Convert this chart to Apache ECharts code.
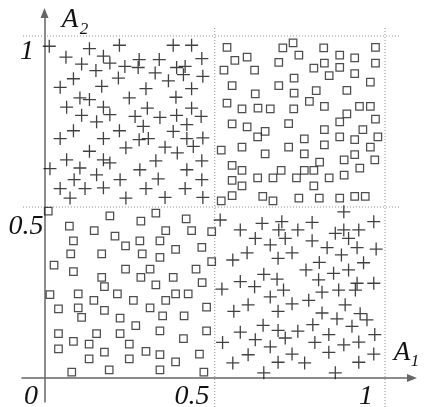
<!DOCTYPE html>
<html>
<head>
<meta charset="utf-8">
<script src="https://cdn.jsdelivr.net/npm/echarts@6/dist/echarts.min.js"></script>
<style>
  html, body { margin: 0; padding: 0; background: #fff; }
  #chart { width: 425px; height: 407px; }
</style>
</head>
<body>
<div id="chart"></div>
<script>
// crosses, upper left block
var crossTopLeft = [
  [0.014,0.970],[0.132,0.963],[0.220,0.973],[0.378,0.973],[0.432,0.973],
  [0.063,0.938],[0.173,0.941],[0.278,0.931],[0.337,0.931],[0.462,0.934],
  [0.109,0.918],[0.192,0.921],[0.236,0.911],[0.275,0.908],[0.388,0.908],[0.413,0.911],
  [0.151,0.899],[0.325,0.892],[0.408,0.887],[0.465,0.882],
  [0.085,0.875],[0.217,0.877],[0.364,0.869],
  [0.046,0.850],[0.168,0.853],[0.298,0.846],[0.432,0.846],
  [0.104,0.819],[0.132,0.814],[0.249,0.819],[0.386,0.821],
  [0.065,0.792],[0.173,0.792],[0.302,0.789],[0.432,0.789],
  [0.109,0.768],[0.192,0.770],[0.266,0.765],[0.339,0.762],[0.388,0.768],[0.460,0.765],
  [0.153,0.749],[0.290,0.736],[0.418,0.741],
  [0.085,0.723],[0.220,0.723],[0.378,0.721],
  [0.046,0.700],[0.173,0.700],[0.278,0.697],[0.305,0.700],[0.418,0.700],[0.465,0.702],
  [0.239,0.673],[0.354,0.675],[0.437,0.677],
  [0.132,0.663],[0.390,0.658],
  [0.065,0.638],[0.173,0.638],[0.192,0.629],[0.327,0.635],[0.462,0.635],
  [0.016,0.612],[0.104,0.614],[0.280,0.609],[0.418,0.609],
  [0.153,0.594],
  [0.087,0.580],[0.222,0.580],[0.334,0.582],[0.462,0.580],
  [0.046,0.554],[0.119,0.554],[0.173,0.556],[0.298,0.554],[0.413,0.554],
  [0.075,0.526],[0.239,0.526],[0.354,0.528],[0.465,0.528]
]
// crosses, lower right block
var crossBottomRight = [
  [0.516,0.462],[0.879,0.486],[0.575,0.433],[0.639,0.452],[0.697,0.457],[0.786,0.455],
  [0.744,0.433],[0.688,0.433],[0.854,0.423],[0.879,0.433],[0.923,0.433],[0.967,0.457],
  [0.619,0.408],[0.707,0.408],[0.786,0.401],[0.893,0.408],
  [0.663,0.389],[0.830,0.381],[0.918,0.381],[0.974,0.377],
  [0.595,0.366],[0.727,0.366],[0.872,0.360],
  [0.553,0.345],[0.686,0.350],[0.807,0.338],[0.937,0.337],
  [0.768,0.316],[0.644,0.303],[0.849,0.306],[0.893,0.316],
  [0.575,0.282],[0.683,0.289],[0.805,0.287],[0.918,0.277],[0.967,0.277],
  [0.521,0.260],[0.617,0.267],[0.702,0.257],[0.815,0.251],[0.864,0.257],[0.913,0.257],
  [0.663,0.237],[0.598,0.214],[0.727,0.217],[0.776,0.227],[0.883,0.214],
  [0.556,0.195],[0.686,0.195],[0.815,0.190],[0.927,0.188],
  [0.859,0.173],[0.947,0.170],
  [0.642,0.154],[0.788,0.156],[0.903,0.151],
  [0.575,0.134],[0.686,0.139],[0.707,0.117],[0.744,0.137],[0.835,0.127],[0.970,0.127],
  [0.523,0.104],[0.619,0.112],[0.663,0.091],[0.794,0.104],[0.879,0.097],[0.923,0.105],
  [0.835,0.075],[0.598,0.068],[0.727,0.070],[0.967,0.070],
  [0.553,0.044],[0.686,0.046],[0.764,0.044],[0.923,0.046],
  [0.644,0.015],[0.854,0.015]
]
// squares, upper right block
var squareTopRight = [
  [0.536,0.967],[0.700,0.965],[0.730,0.980],[0.820,0.965],[0.972,0.967],
  [0.559,0.929],[0.595,0.938],[0.688,0.923],[0.747,0.944],[0.867,0.944],[0.911,0.936],
  [0.527,0.900],[0.617,0.900],[0.791,0.906],[0.822,0.921],[0.867,0.908],[0.972,0.921],
  [0.836,0.884],[0.911,0.890],[0.733,0.877],
  [0.551,0.855],[0.688,0.855],[0.957,0.865],
  [0.619,0.831],[0.733,0.833],[0.798,0.840],[0.888,0.841],
  [0.536,0.804],[0.778,0.809],
  [0.580,0.787],[0.627,0.789],[0.663,0.787],[0.732,0.787],[0.822,0.794],[0.925,0.794],[0.957,0.794],
  [0.888,0.772],
  [0.551,0.743],[0.595,0.734],[0.717,0.744],[0.867,0.749],[0.972,0.757],
  [0.648,0.721],[0.626,0.705],[0.822,0.726],[0.935,0.726],
  [0.763,0.699],[0.867,0.705],[0.911,0.697],[0.979,0.705],
  [0.519,0.666],[0.580,0.675],[0.648,0.655],[0.717,0.675],[0.822,0.682],[0.957,0.675],
  [0.763,0.655],[0.911,0.653],
  [0.808,0.631],[0.880,0.638],[0.970,0.638],
  [0.551,0.622],[0.580,0.607],[0.695,0.607],[0.763,0.607],[0.791,0.607],[0.926,0.614],
  [0.551,0.578],[0.626,0.585],[0.671,0.585],[0.740,0.585],[0.836,0.585],[0.880,0.593],
  [0.580,0.562],[0.791,0.562],
  [0.519,0.518],[0.551,0.533],[0.641,0.531],[0.671,0.518],[0.747,0.526],[0.807,0.526],[0.867,0.526],[0.911,0.531],[0.942,0.531]
]
// squares, lower left block
var squareBottomLeft = [
  [0.011,0.488],[0.192,0.474],[0.327,0.482],[0.283,0.459],[0.416,0.465],
  [0.073,0.444],[0.146,0.431],[0.356,0.431],[0.432,0.431],[0.491,0.428],
  [0.085,0.401],[0.207,0.415],[0.280,0.401],[0.339,0.401],
  [0.238,0.386],[0.385,0.376],[0.462,0.382],
  [0.077,0.363],[0.168,0.363],[0.287,0.363],[0.339,0.353],
  [0.028,0.330],[0.491,0.340],
  [0.085,0.311],[0.238,0.318],[0.310,0.318],[0.445,0.318],
  [0.168,0.294],[0.283,0.294],[0.378,0.294],[0.463,0.279],
  [0.176,0.267],[0.327,0.272],
  [0.016,0.244],[0.099,0.246],[0.214,0.246],[0.385,0.246],[0.422,0.246],
  [0.041,0.202],[0.099,0.205],[0.145,0.227],[0.176,0.198],[0.109,0.177],
  [0.261,0.227],[0.356,0.227],[0.310,0.205],[0.347,0.182],[0.410,0.182],[0.476,0.207],
  [0.222,0.175],[0.268,0.153],
  [0.041,0.130],[0.153,0.130],[0.222,0.130],[0.339,0.138],[0.476,0.138],
  [0.085,0.107],[0.131,0.099],[0.249,0.099],[0.408,0.115],
  [0.041,0.085],[0.176,0.076],[0.298,0.078],[0.339,0.068],[0.455,0.070],
  [0.131,0.056],[0.249,0.056],[0.385,0.047],
  [0.080,0.017],[0.190,0.024],[0.339,0.024],[0.468,0.017]
]

// dotted guide lines at these values
var guideValues = [0.5, 1]
var xTickLabels = ['0', '0.5', '1']
var yTickLabels = ['0.5', '1']

var chart = echarts.init(document.getElementById('chart'))

var serif = '"Liberation Serif", "Times New Roman", serif'
var crossSymbol = 'path://M6,0L6,12M0,6L12,6'

// dotted guides go a little past the unit square, like the original
var guides = []
guideValues.forEach(function (v) {
  guides.push([[-0.081, v], [1.044, v]])
  guides.push([[v, -0.085], [v, 1.026]])
})

var series = guides.map(function (g) {
  return {
    type: 'line',
    data: g,
    showSymbol: false,
    silent: true,
    clip: false,
    z: 1,
    lineStyle: { color: '#8c8c8c', width: 1, type: [1, 2] }
  }
})

var squareStyle = { color: 'rgba(255,255,255,0)', borderColor: '#222', borderWidth: 1.25 }
var crossStyle = { color: 'rgba(0,0,0,0)', borderColor: '#111', borderWidth: 1.3 }

series.push({ type: 'scatter', data: squareBottomLeft, symbol: 'rect', symbolSize: 7.5, z: 3, itemStyle: squareStyle })
series.push({ type: 'scatter', data: squareTopRight, symbol: 'rect', symbolSize: 7.5, z: 3, itemStyle: squareStyle })
series.push({ type: 'scatter', data: crossTopLeft, symbol: crossSymbol, symbolSize: 13, z: 3, itemStyle: crossStyle })
series.push({ type: 'scatter', data: crossBottomRight, symbol: crossSymbol, symbolSize: 13, z: 3, itemStyle: crossStyle })

var axisLine = {
  onZero: true,
  symbol: ['none', 'triangle'],
  symbolSize: [8, 10],
  lineStyle: { color: '#666', width: 1.5 }
}

function label(text, x, y, size) {
  return {
    type: 'text', x: x, y: y, z: 10,
    style: {
      text: text,
      font: 'italic ' + size + 'px ' + serif,
      fill: '#111',
      align: 'center', verticalAlign: 'middle',
      textAlign: 'center', textVerticalAlign: 'middle'
    }
  }
}

var option = {
  animation: false,
  grid: { left: 22, right: 13, top: 13, bottom: 5, containLabel: false, outerBoundsMode: 'none' },
  xAxis: {
    type: 'value', min: -0.0661, max: 1.0793,
    axisLine: axisLine,
    axisTick: { show: false }, axisLabel: { show: false }, splitLine: { show: false }
  },
  yAxis: {
    type: 'value', min: -0.0702, max: 1.0673,
    axisLine: axisLine,
    axisTick: { show: false }, axisLabel: { show: false }, splitLine: { show: false }
  },
  series: series,
  graphic: [
    // tick labels
    label(yTickLabels[1], 27, 52, 28),
    label(yTickLabels[0], 26, 227, 28),
    label(xTickLabels[0], 31, 397, 28),
    label(xTickLabels[1], 192, 397, 28),
    label(xTickLabels[2], 366, 397, 28),
    // axis names A1, A2
    label('A', 402, 353, 27),
    label('1', 415, 362, 17),
    label('A', 70, 20, 27),
    label('2', 84, 30, 17)
  ]
}

chart.setOption(option)
</script>
</body>
</html>
